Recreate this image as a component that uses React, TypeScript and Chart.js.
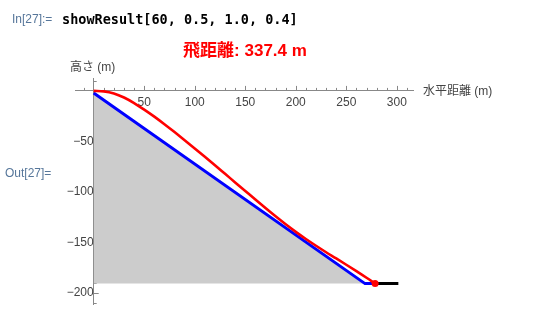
import React, { useEffect, useRef } from 'react';
import { Chart, registerables } from 'chart.js';

Chart.register(...registerables);

// Flight trajectory (red)
const flightX = [0, 10, 20, 30, 40, 50, 60, 70, 80, 90, 100, 110, 120, 130, 140, 150, 160, 170, 180, 190, 200, 210, 220, 230, 240, 250, 260, 270, 278.5];
const flightY = [0, -0.5, -2.5, -6.5, -12, -18.5, -25.5, -33, -40.8, -48.8, -57, -65.3, -73.7, -82.2, -90.7, -99.2, -107.7, -116.1, -124.3, -132.2, -139.7, -146.8, -153.5, -159.9, -166, -172.3, -178.7, -185.2, -191];
// Landing hill profile (blue)
const hillX = [0, 268.5, 278.5];
const hillY = [-2, -191, -191];
// Flat ground after landing (black)
const groundX = [278.5, 301.5];
const groundY = [-191, -191];
// Terrain (grey fill)
const terrainX = [0, 268.5];
const terrainY = [-2, -191];
const terrainBase = -191;
// Landing point
const landingX = [278.5];
const landingY = [-191];

const xMajorTicks = [50, 100, 150, 200, 250, 300];
const yMajorTicks = [-50, -100, -150, -200];

const titleText = '飛距離: 337.4 m';
const xAxisTitle = '水平距離 (m)';
const yAxisTitle = '高さ (m)';

const pts = (xs: number[], ys: number[]) => xs.map((x, i) => ({ x, y: ys[i] }));
const fmt = (v: number) => (v < 0 ? '\u2212' + Math.abs(v) : String(v));

const decorPlugin = {
  id: 'decor',
  beforeDatasetsDraw(chart: any) {
    const { ctx } = chart;
    const xs = chart.scales.x;
    const ys = chart.scales.y;
    const x0 = xs.getPixelForValue(0);
    const y0 = ys.getPixelForValue(0);
    ctx.save();
    ctx.strokeStyle = '#888';
    ctx.lineWidth = 1;
    ctx.beginPath();
    for (let v = -10; v <= 310; v += 10) {
      if (v === 0) continue;
      const len = v % 50 === 0 ? 5 : 3;
      const px = Math.round(xs.getPixelForValue(v)) + 0.5;
      ctx.moveTo(px, y0);
      ctx.lineTo(px, y0 - len);
    }
    for (let v = 10; v >= -210; v -= 10) {
      if (v === 0) continue;
      const len = v % 50 === 0 ? 5 : 3;
      const py = Math.round(ys.getPixelForValue(v)) + 0.5;
      ctx.moveTo(x0, py);
      ctx.lineTo(x0 + len, py);
    }
    ctx.stroke();
    ctx.restore();
  },
  afterDraw(chart: any) {
    const { ctx } = chart;
    const xs = chart.scales.x;
    const ys = chart.scales.y;
    ctx.save();
    ctx.fillStyle = '#444';
    ctx.font = '12px "Liberation Sans", Arial, "Noto Sans CJK JP", sans-serif';
    ctx.textBaseline = 'middle';
    ctx.textAlign = 'left';
    ctx.fillText(xAxisTitle, xs.right + 10, ys.getPixelForValue(0) + 1);
    ctx.textAlign = 'center';
    ctx.fillText(yAxisTitle, xs.getPixelForValue(0) - 1, 68);
    ctx.fillStyle = '#ff0000';
    ctx.font = 'bold 17px "Liberation Sans", Arial, "Noto Sans CJK JP", sans-serif';
    ctx.textBaseline = 'alphabetic';
    ctx.fillText(titleText, 245, 55.5);
    ctx.restore();
  },
};

export default function App() {
  const ref = useRef<HTMLCanvasElement | null>(null);
  useEffect(() => {
    if (!ref.current) return;
    const tickFont = { family: '"Liberation Sans", Arial, sans-serif', size: 12 };
    const chart = new Chart(ref.current, {
      type: 'line',
      data: {
        datasets: [
          {
            data: pts(landingX, landingY),
            borderColor: '#ff0000',
            backgroundColor: '#ff0000',
            pointRadius: 3.5,
            pointBorderWidth: 0,
            showLine: false,
          },
          {
            data: pts(flightX, flightY),
            borderColor: '#ff0000',
            borderWidth: 2.6,
            pointRadius: 0,
            cubicInterpolationMode: 'monotone',
            fill: false,
          },
          {
            data: pts(hillX, hillY),
            borderColor: '#0000ff',
            borderWidth: 3,
            pointRadius: 0,
            tension: 0,
            fill: false,
          },
          {
            data: pts(groundX, groundY),
            borderColor: '#000000',
            borderWidth: 3,
            pointRadius: 0,
            fill: false,
          },
          {
            data: pts(terrainX, terrainY),
            borderColor: 'rgba(0,0,0,0)',
            borderWidth: 0,
            backgroundColor: '#cccccc',
            pointRadius: 0,
            fill: { value: terrainBase },
          },
        ],
      },
      options: {
        animation: false,
        responsive: false,
        events: [],
        layout: { padding: { left: 75.5, right: 121, top: 78.5, bottom: 15 } },
        plugins: { legend: { display: false }, tooltip: { enabled: false }, title: { display: false } },
        scales: {
          x: {
            type: 'linear',
            min: -18,
            max: 316,
            position: { y: 0 },
            afterBuildTicks: (s: any) => {
              s.ticks = xMajorTicks.map((v) => ({ value: v }));
            },
            grid: { display: true, drawOnChartArea: false, drawTicks: false },
            border: { display: true, color: '#888', width: 1 },
            ticks: { color: '#444', font: tickFont, padding: 5, maxRotation: 0, autoSkip: false, callback: (v: any) => fmt(Number(v)) },
          },
          y: {
            type: 'linear',
            min: -212,
            max: 12.3,
            position: { x: 0 },
            afterBuildTicks: (s: any) => {
              s.ticks = yMajorTicks.map((v) => ({ value: v }));
            },
            grid: { display: true, drawOnChartArea: false, drawTicks: false },
            border: { display: true, color: '#888', width: 1 },
            ticks: { color: '#444', font: tickFont, padding: 8, autoSkip: false, callback: (v: any) => fmt(Number(v)) },
          },
        },
      },
      plugins: [decorPlugin],
    } as any);
    return () => chart.destroy();
  }, []);

  const cellLabel: React.CSSProperties = {
    position: 'absolute',
    color: '#56769a',
    fontFamily: '"Liberation Sans", Arial, sans-serif',
    fontSize: 12,
    lineHeight: '14px',
    whiteSpace: 'nowrap',
  };

  return (
    <div style={{ position: 'fixed', left: 0, top: 0, width: 534, height: 320, background: '#fff', overflow: 'hidden' }}>
      <canvas ref={ref} width={534} height={320} style={{ position: 'absolute', left: 0, top: 0, width: 534, height: 320 }} />
      <div style={{ ...cellLabel, left: 12, top: 12 }}>In[27]:=</div>
      <div
        style={{
          position: 'absolute',
          left: 62,
          top: 10,
          fontFamily: '"DejaVu Sans Mono", "Liberation Mono", monospace',
          fontWeight: 'bold',
          fontSize: 13.5,
          lineHeight: '18px',
          color: '#000',
          whiteSpace: 'nowrap',
        }}
      >
        showResult[60, 0.5, 1.0, 0.4]
      </div>
      <div style={{ ...cellLabel, left: 5, top: 166 }}>Out[27]=</div>
    </div>
  );
}
